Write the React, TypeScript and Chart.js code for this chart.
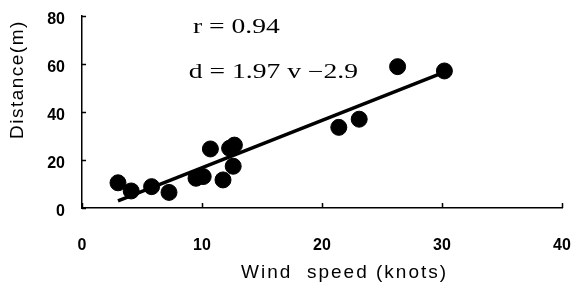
import React, { useEffect, useRef } from "react";
import { Chart, registerables } from "chart.js";

Chart.register(...registerables);

const windSpeed = [3.0, 4.1, 5.8, 7.25, 9.5, 10.1, 10.7, 11.75, 12.3, 12.7, 12.6, 21.4, 23.1, 26.3, 30.2];
const distance = [10.5, 7.1, 8.9, 6.5, 12.4, 13.1, 24.6, 11.7, 24.9, 26.2, 17.4, 33.6, 37.0, 58.9, 57.1];
const fitX = [3.0, 30.2];
const fitY = [3.0, 56.6];
const xTicks = [0, 10, 20, 30, 40];
const yTicks = [0, 20, 40, 60, 80];
const xTitle = "Wind  speed (knots)";
const yTitle = "Distance(m)";
const annotR = "r = 0.94";
const annotD = "d = 1.97 v \u22122.9";

function drawWide(ctx: any, text: string, x: number, y: number) {
  ctx.save();
  ctx.translate(x, y);
  ctx.scale(1.38, 1);
  ctx.fillText(text, 0, 0);
  ctx.restore();
}

const extrasPlugin = {
  id: "extras",
  afterDraw(chart: any) {
    const { ctx, chartArea, scales } = chart;
    const xs = scales.x;
    const ys = scales.y;
    ctx.save();
    ctx.strokeStyle = "#000";
    ctx.lineWidth = 1.5;
    ctx.beginPath();
    for (const v of yTicks) {
      const p = Math.round(ys.getPixelForValue(v)) + 0.5;
      ctx.moveTo(chartArea.left, p);
      ctx.lineTo(chartArea.left + 4, p);
    }
    for (const v of xTicks) {
      const p = Math.round(xs.getPixelForValue(v)) + 0.5;
      ctx.moveTo(p, chartArea.bottom);
      ctx.lineTo(p, chartArea.bottom - 5);
    }
    ctx.stroke();
    ctx.fillStyle = "#000";
    ctx.textBaseline = "alphabetic";
    ctx.textAlign = "left";
    ctx.font = "20px 'Liberation Serif', 'DejaVu Serif', serif";
    drawWide(ctx, annotR, xs.getPixelForValue(9.25), ys.getPixelForValue(72.8));
    drawWide(ctx, annotD, xs.getPixelForValue(8.9), ys.getPixelForValue(54.2));
    ctx.font = "19px 'Liberation Sans', Arial, sans-serif";
    (ctx as any).letterSpacing = "2px";
    ctx.textAlign = "center";
    ctx.fillText(xTitle, xs.getPixelForValue(21.8) + 1, chartArea.bottom + 70);
    (ctx as any).letterSpacing = "1.5px";
    ctx.textBaseline = "middle";
    ctx.translate(18, ys.getPixelForValue(53.5));
    ctx.rotate(-Math.PI / 2);
    ctx.fillText(yTitle, 0, 0);
    ctx.restore();
  },
};

export default function App() {
  const ref = useRef<HTMLCanvasElement>(null);
  useEffect(() => {
    if (!ref.current) return;
    const chart = new Chart(ref.current, {
      type: "scatter",
      data: {
        datasets: [
          {
            type: "line",
            data: fitX.map((x, i) => ({ x, y: fitY[i] })),
            borderColor: "#000",
            borderWidth: 3.5,
            pointRadius: 0,
            showLine: true,
            fill: false,
            order: 2,
          } as any,
          {
            data: windSpeed.map((x, i) => ({ x, y: distance[i] })),
            backgroundColor: "#000",
            borderColor: "#000",
            pointRadius: 8,
            pointHoverRadius: 8,
            order: 1,
          },
        ],
      },
      options: {
        responsive: false,
        animation: false,
        events: [],
        layout: { padding: { top: 16, right: 12, left: 0, bottom: 0 } },
        plugins: { legend: { display: false }, tooltip: { enabled: false } },
        scales: {
          x: {
            type: "linear",
            min: 0,
            max: 40,
            afterBuildTicks: (s: any) => { s.ticks = xTicks.map((v) => ({ value: v })); },
            afterFit: (s: any) => {
              s.height = 74;
              s.paddingLeft = 0; s.paddingRight = 0; s.paddingTop = 0; s.paddingBottom = 0;
            },
            grid: { display: false, drawTicks: false },
            border: { display: true, color: "#000", width: 1.5 },
            ticks: {
              color: "#000",
              padding: 28,
              font: { family: "'Liberation Sans', Arial, sans-serif", size: 16, weight: "bold" },
            },
          },
          y: {
            type: "linear",
            min: 0,
            max: 80,
            afterBuildTicks: (s: any) => { s.ticks = yTicks.map((v) => ({ value: v })); },
            afterFit: (s: any) => {
              s.width = 82;
              s.paddingLeft = 0; s.paddingRight = 0; s.paddingTop = 0; s.paddingBottom = 0;
            },
            grid: { display: false, drawTicks: false },
            border: { display: true, color: "#000", width: 1.5 },
            ticks: {
              color: "#000",
              padding: 17,
              labelOffset: 4,
              font: { family: "'Liberation Sans', Arial, sans-serif", size: 16, weight: "bold" },
            },
          },
        },
      },
      plugins: [extrasPlugin],
    });
    return () => chart.destroy();
  }, []);
  return (
    <div style={{ position: "absolute", left: 0, top: 0, width: 574, height: 282, background: "#fff" }}>
      <canvas ref={ref} width={574} height={282} />
    </div>
  );
}
